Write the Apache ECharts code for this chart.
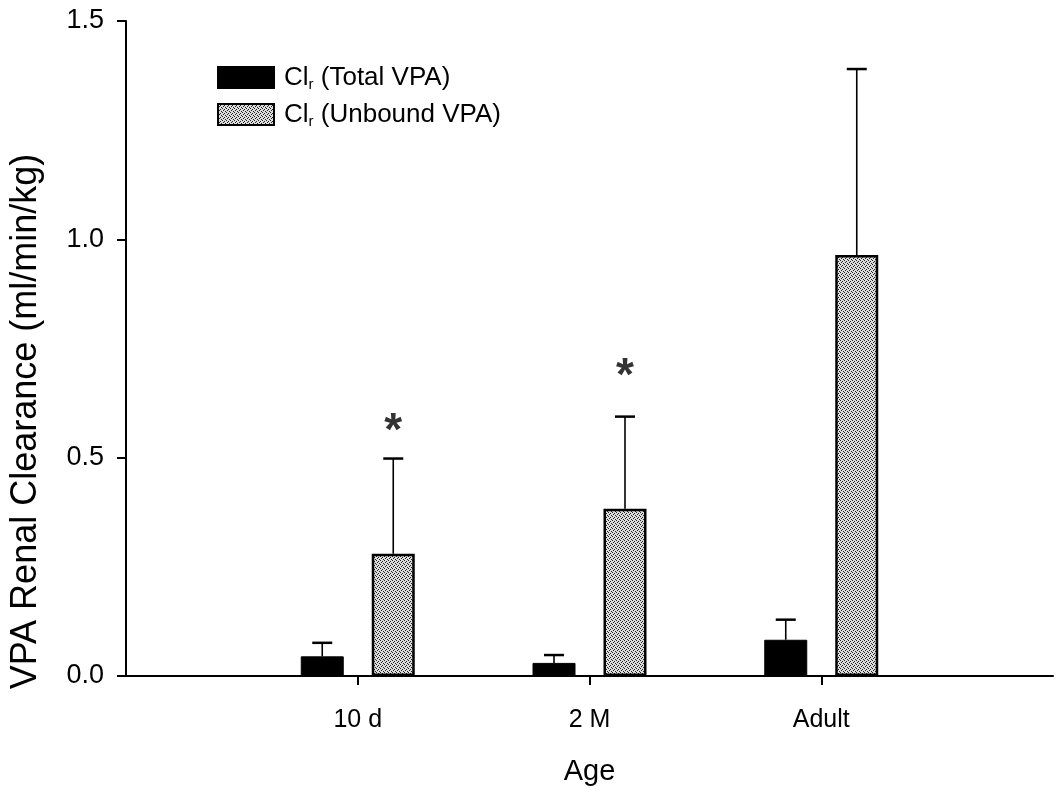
<!DOCTYPE html>
<html>
<head>
<meta charset="utf-8">
<script src="https://cdn.jsdelivr.net/npm/echarts@6/dist/echarts.min.js"></script>
<style>
  html, body { margin: 0; padding: 0; background: #fff; }
  #chart { width: 1056px; height: 794px; }
</style>
</head>
<body>
<div id="chart"></div>
<script>
// Age groups; empty slots pad the axis so the groups sit at 1, 2, 3
const ageGroups = ['', '10 d', '2 M', 'Adult', ''];
const groupIndex = [1, 2, 3];

// Renal clearance, ml/min/kg (mean and SD)
const totalMean   = [0.045, 0.030, 0.083];
const totalSD     = [0.031, 0.018, 0.046];
const unboundMean = [0.280, 0.383, 0.964];
const unboundSD   = [0.218, 0.211, 0.426];

// Significance markers (group index, height)
const sigMarks = [[1, 0.580], [2, 0.708]];

const yTicks = [0, 0.5, 1.0, 1.5];

const FONT = '"Liberation Sans", Arial, Helvetica, sans-serif';
const BAR_W = 43;
const BAR_GAP = 28;
const HALF = (BAR_W + BAR_GAP) / 2;

// stippled grey fill
function stipple() {
  const c = document.createElement('canvas');
  c.width = 4; c.height = 4;
  const g = c.getContext('2d');
  g.fillStyle = '#dcdcdc';
  g.fillRect(0, 0, 4, 4);
  g.fillStyle = '#222';
  g.fillRect(0, 0, 1, 1);
  g.fillRect(2, 1, 1, 1);
  g.fillRect(1, 2, 1, 1);
  g.fillRect(3, 3, 1, 1);
  return c;
}

function padded(arr) {
  const out = ageGroups.map(() => null);
  groupIndex.forEach((gi, i) => { out[gi] = arr[i]; });
  return out;
}

function errData(mean, sd) {
  return groupIndex.map((gi, i) => [gi, mean[i], sd[i]]);
}

function errRender(offset) {
  return function (params, api) {
    const x = api.value(0), m = api.value(1), s = api.value(2);
    const base = api.coord([x, m]);
    const top = api.coord([x, m + s]);
    const cx = base[0] + offset;
    return {
      type: 'group',
      children: [
        { type: 'line', shape: { x1: cx, y1: base[1], x2: cx, y2: top[1] },
          style: { stroke: '#000', lineWidth: 1.6 } },
        { type: 'line', shape: { x1: cx - 10, y1: top[1], x2: cx + 10, y2: top[1] },
          style: { stroke: '#000', lineWidth: 2.5 } }
      ]
    };
  };
}

const chart = echarts.init(document.getElementById('chart'), null, { renderer: 'canvas' });

const legendRich = {
  m: { fontFamily: FONT, fontSize: 26, color: '#000', lineHeight: 28 },
  s: { fontFamily: FONT, fontSize: 15, color: '#000', lineHeight: 28, padding: [14, 0, 0, 0] }
};

chart.setOption({
  animation: false,
  backgroundColor: '#fff',
  grid: { left: 123, right: -6, top: 21, bottom: 118 },
  legend: {
    orient: 'vertical',
    left: 212,
    top: 58,
    icon: 'rect',
    itemWidth: 56,
    itemHeight: 21,
    itemGap: 8,
    selectedMode: false,
    data: ['Total VPA', 'Unbound VPA'],
    formatter: name => '{m|Cl}{s|r}{m| (' + name + ')}',
    textStyle: { rich: legendRich, padding: [0, 0, 0, 5] }
  },
  xAxis: {
    type: 'category',
    data: ageGroups,
    boundaryGap: false,
    name: 'Age',
    nameLocation: 'middle',
    nameGap: 81,
    nameTextStyle: { fontFamily: FONT, fontSize: 29, color: '#000' },
    axisLine: { lineStyle: { color: '#000', width: 2 } },
    axisTick: {
      length: 9, lineStyle: { color: '#000', width: 2 },
      interval: (i, v) => v !== ''
    },
    axisLabel: {
      interval: 0, margin: 32,
      fontFamily: FONT, fontSize: 25, color: '#000'
    },
    splitLine: { show: false }
  },
  yAxis: {
    type: 'value',
    min: yTicks[0],
    max: yTicks[yTicks.length - 1],
    interval: 0.5,
    name: 'VPA Renal Clearance (ml/min/kg)',
    nameLocation: 'middle',
    nameGap: 82,
    nameTextStyle: { fontFamily: FONT, fontSize: 36, color: '#000', padding: [0, 146, 0, 0] },
    axisLine: { show: true, lineStyle: { color: '#000', width: 2 } },
    axisTick: { show: true, length: 9, lineStyle: { color: '#000', width: 2 } },
    axisLabel: {
      margin: 22, fontFamily: FONT, fontSize: 27, color: '#000',
      formatter: v => v.toFixed(1)
    },
    splitLine: { show: false }
  },
  series: [
    {
      name: 'Total VPA',
      type: 'bar',
      data: padded(totalMean),
      barWidth: BAR_W,
      barGap: (BAR_GAP / BAR_W * 100) + '%',
      itemStyle: { color: '#000', borderColor: '#000', borderWidth: 1 }
    },
    {
      name: 'Unbound VPA',
      type: 'bar',
      data: padded(unboundMean),
      barWidth: BAR_W,
      itemStyle: { color: { image: stipple(), repeat: 'repeat' }, borderColor: '#000', borderWidth: 2.5 }
    },
    {
      type: 'custom',
      data: errData(totalMean, totalSD),
      renderItem: errRender(-HALF),
      z: 5
    },
    {
      type: 'custom',
      data: errData(unboundMean, unboundSD),
      renderItem: errRender(HALF),
      z: 5
    },
    {
      type: 'scatter',
      data: sigMarks,
      symbolSize: 0,
      label: {
        show: true, position: 'inside', offset: [HALF, 10],
        formatter: '*', fontFamily: FONT, fontSize: 46, fontWeight: 'bold', color: '#000'
      },
      z: 6
    }
  ]
});
</script>
</body>
</html>
